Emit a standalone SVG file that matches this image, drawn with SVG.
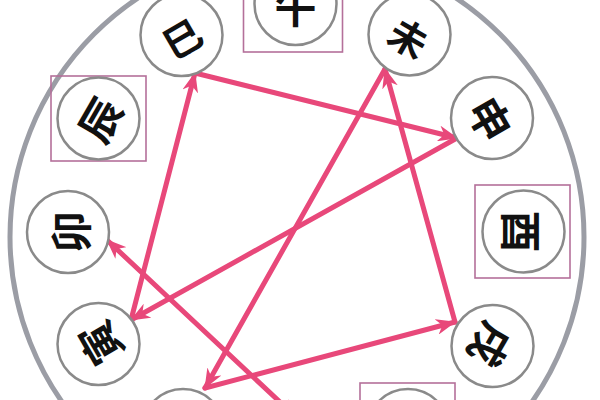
<svg xmlns="http://www.w3.org/2000/svg" width="600" height="400" viewBox="0 0 600 400">
<defs>
<style>
.ring{fill:none;stroke:#9b9da5;stroke-width:5}
.node{fill:#fff;stroke:#8a8a8a;stroke-width:2.5}
.box{fill:none;stroke:#b4709a;stroke-width:1.6}
.lbl{font-family:"Noto Sans CJK SC","Noto Sans CJK TC",sans-serif;font-weight:700;font-size:42px;fill:#111;text-anchor:middle;dominant-baseline:central}
.sm{font-size:38px}
.edge{fill:none;stroke:#e8487a;stroke-width:5;stroke-linecap:round}
</style>
<marker id="ah" markerUnits="userSpaceOnUse" markerWidth="22" markerHeight="16" refX="19" refY="8" orient="auto-start-reverse" viewBox="0 0 22 16">
<path d="M0,0 L20,8 L0,16 L6,8 Z" fill="#e8487a"/>
</marker>
</defs>
<circle class="ring" cx="297" cy="237" r="287"/>
<g id="connectors">
<line class="edge" x1="131" y1="320" x2="195" y2="73" marker-end="url(#ah)"/>
<line class="edge" x1="195" y1="73" x2="457" y2="138" marker-end="url(#ah)"/>
<line class="edge" x1="457" y1="138" x2="131" y2="320" marker-end="url(#ah)"/>
<line class="edge" x1="205" y1="388" x2="455" y2="322" marker-end="url(#ah)"/>
<line class="edge" x1="455" y1="322" x2="385" y2="69" marker-end="url(#ah)"/>
<line class="edge" x1="385" y1="69" x2="205" y2="388" marker-end="url(#ah)"/>
<line class="edge" x1="107" y1="240" x2="297" y2="418" marker-start="url(#ah)" marker-end="url(#ah)"/>
</g>
<g id="node-wu" transform="translate(295.5,4)">
<rect class="box" x="-52" y="-44" width="99" height="92"/>
<circle class="node" r="41"/>
<text class="lbl">午</text>
</g>
<g id="node-wei" transform="translate(409.5,34.5)">
<circle class="node" r="41"/>
<text class="lbl sm" transform="translate(0,2) rotate(30)">未</text>
</g>
<g id="node-shen" transform="translate(492,118)">
<circle class="node" r="41"/>
<text class="lbl" transform="rotate(60)">申</text>
</g>
<g id="node-you" transform="translate(523.5,231.5)">
<rect class="box" x="-48.5" y="-46.5" width="95" height="93"/>
<circle class="node" r="41"/>
<text class="lbl" transform="rotate(90)">酉</text>
</g>
<g id="node-xu" transform="translate(492.5,346)">
<circle class="node" r="41"/>
<text class="lbl" transform="rotate(120)">戌</text>
</g>
<g id="node-hai" transform="translate(408,430)">
<rect class="box" x="-48" y="-47" width="95" height="92"/>
<circle class="node" r="41"/>
</g>
<g id="node-chou" transform="translate(183,430)">
<circle class="node" r="41"/>
</g>
<g id="node-yin" transform="translate(98.5,344)">
<circle class="node" r="41"/>
<text class="lbl" transform="rotate(-120)">寅</text>
</g>
<g id="node-mao" transform="translate(68,232)">
<circle class="node" r="41"/>
<text class="lbl" transform="rotate(-90)">卯</text>
</g>
<g id="node-chen" transform="translate(98.5,118.5)">
<rect class="box" x="-47.5" y="-42.5" width="95" height="85"/>
<circle class="node" r="41"/>
<text class="lbl" transform="rotate(-60)">辰</text>
</g>
<g id="node-si" transform="translate(181.5,35)">
<circle class="node" r="41"/>
<text class="lbl sm" transform="translate(0,2) rotate(-30)">巳</text>
</g>
</svg>
